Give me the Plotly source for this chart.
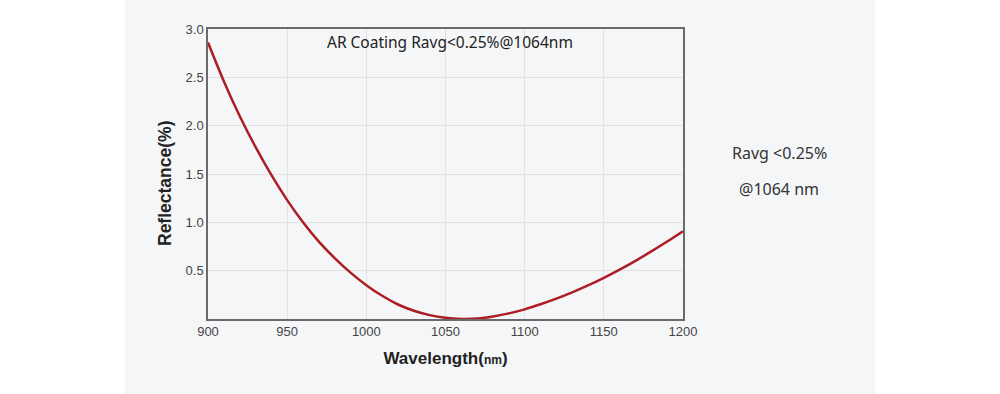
import plotly.graph_objects as go

wavelength = [900, 910, 920, 930, 940, 950, 960, 970, 980, 990, 1000, 1010, 1020, 1030, 1040,
              1050, 1060, 1070, 1080, 1090, 1100, 1110, 1120, 1130, 1140, 1150, 1160, 1170,
              1180, 1190, 1200]
reflectance = [2.86, 2.46, 2.10, 1.78, 1.49, 1.23, 1.00, 0.80, 0.63, 0.48, 0.35, 0.24, 0.15,
               0.085, 0.04, 0.012, 0.001, 0.004, 0.025, 0.058, 0.10, 0.152, 0.21, 0.275, 0.347,
               0.426, 0.511, 0.602, 0.699, 0.801, 0.908]
x_ticks = [900, 950, 1000, 1050, 1100, 1150, 1200]
y_ticks = [0.5, 1.0, 1.5, 2.0, 2.5, 3.0]
y_tick_labels = ["0.5", "1.0", "1.5", "2.0", "2.5", "3.0"]

panel = "#f5f6f8"

fig = go.Figure()
fig.add_trace(go.Scatter(x=wavelength, y=reflectance, mode="lines",
                         line=dict(color="#ac1d24", width=2.5, shape="spline", smoothing=0.8),
                         hoverinfo="skip", showlegend=False))

fig.update_layout(
    width=1000, height=394,
    margin=dict(l=208, r=317, t=29, b=75),
    paper_bgcolor="white",
    plot_bgcolor=panel,
    font=dict(family="Liberation Sans, Arial, sans-serif", color="#444", size=13),
    shapes=[dict(type="rect", xref="paper", yref="paper", layer="below",
                 x0=-83/475, x1=667/475, y0=-80/290, y1=1 + 35/290,
                 fillcolor=panel, line=dict(width=0))],
    annotations=[
        dict(text="AR Coating Ravg<0.25%@1064nm", xref="paper", yref="paper",
             x=(450 - 208) / 475, y=1, yshift=-13, xanchor="center", yanchor="middle",
             showarrow=False,
             font=dict(family="Noto Sans, Open Sans, sans-serif", size=15.5, color="#222")),
        dict(text="Ravg <0.25%", xref="paper", yref="paper", x=(779 - 208) / 475,
             y=(318 - 152) / 290, xanchor="center", yanchor="middle", showarrow=False,
             font=dict(family="Noto Sans, Open Sans, sans-serif", size=16, color="#333")),
        dict(text="@1064 nm", xref="paper", yref="paper", x=(779 - 208) / 475,
             y=(318 - 188) / 290, xanchor="center", yanchor="middle", showarrow=False,
             font=dict(family="Noto Sans, Open Sans, sans-serif", size=16, color="#333")),
        dict(text="<b>Reflectance(%)</b>", xref="paper", yref="paper",
             x=(165 - 208) / 475, y=(318 - 183) / 290, xanchor="center", yanchor="middle",
             textangle=-90, showarrow=False,
             font=dict(family="Liberation Sans, Arial, sans-serif", size=17.5, color="#222")),
    ],
)

fig.update_xaxes(range=[900, 1200], tickvals=x_ticks, showgrid=True, gridcolor="#e2e2e2",
                 gridwidth=1, showline=True, linecolor="#6a6a6a", linewidth=1.5, mirror=True,
                 zeroline=False, ticks="", tickfont=dict(size=13, color="#444"),
                 automargin=False,
                 title=dict(text="<b>Wavelength(<span style='font-size:12px'>nm</span>)</b>",
                            font=dict(size=17, color="#222"), standoff=14))
fig.update_yaxes(range=[0, 3.0], tickvals=y_ticks, ticktext=y_tick_labels, showgrid=True,
                 gridcolor="#e2e2e2", gridwidth=1, showline=True, linecolor="#6a6a6a",
                 linewidth=1.5, mirror=True, zeroline=False, ticks="",
                 tickfont=dict(size=13, color="#444"), automargin=False)

fig.write_html("out.html", post_script="document.body.style.margin='0';",
               config={"displayModeBar": False})
